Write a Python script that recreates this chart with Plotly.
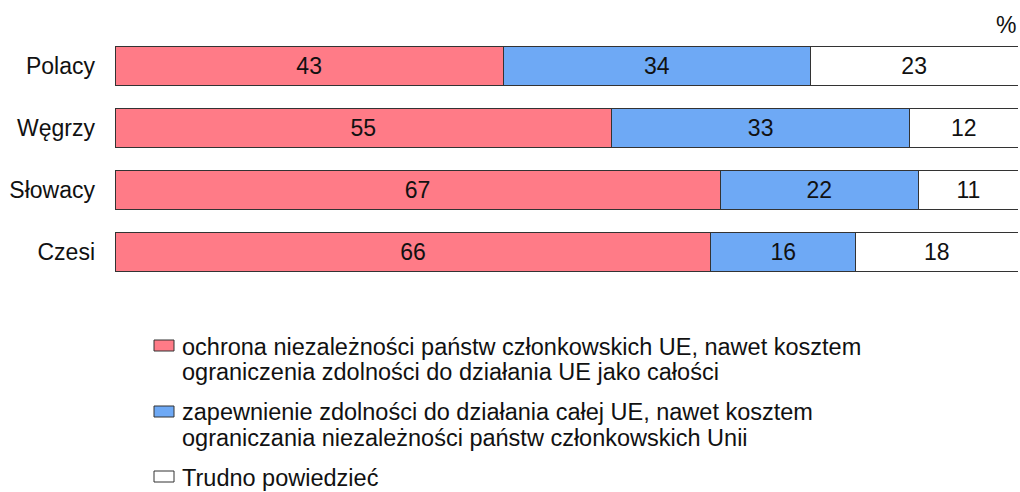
import plotly.graph_objects as go

categories = ["Polacy", "Węgrzy", "Słowacy", "Czesi"]
ochrona = [43, 55, 67, 66]
zapewnienie = [34, 33, 22, 16]
trudno = [23, 12, 11, 18]

series_names = [
    "ochrona niezależności państw członkowskich UE, nawet kosztem<br>ograniczenia zdolności do działania UE jako całości",
    "zapewnienie zdolności do działania całej UE, nawet kosztem<br>ograniczania niezależności państw członkowskich Unii",
    "Trudno powiedzieć",
]
series_values = [ochrona, zapewnienie, trudno]
colors = ["#FF7B87", "#6EA9F5", "#FFFFFF"]

W, H = 1020, 492
ML, MR, MT, MB = 115, 2, 35, 209
PW, PH = W - ML - MR, H - MT - MB

def px_x(px):
    return (px - ML) / PW

def px_y(py):
    return (H - MB - py) / PH

FONT = "Liberation Sans, Arial, sans-serif"
FS = 23
FSL = 23.5

fig = go.Figure()
for name, vals, col in zip(series_names, series_values, colors):
    fig.add_trace(go.Bar(
        y=categories, x=vals, orientation="h", name=name,
        marker=dict(color=col, line=dict(color="#333333", width=1)),
        text=vals, texttemplate="%{text}", textposition="inside",
        insidetextanchor="middle", textangle=0,
        textfont=dict(size=FS, color="#111111", family=FONT),
        showlegend=False, hoverinfo="skip",
    ))

shapes = []
annotations = []
legend_rows = [(340, [347, 372]), (406, [412, 438]), (471, [478])]
for (sym_top, line_ys), name, col in zip(legend_rows, series_names, colors):
    shapes.append(dict(type="rect", xref="paper", yref="paper",
                       x0=px_x(154), x1=px_x(174), y0=px_y(sym_top + 11), y1=px_y(sym_top),
                       fillcolor=col, line=dict(color="#333333", width=1)))
    for txt, ly in zip(name.split("<br>"), line_ys):
        annotations.append(dict(text=txt, xref="paper", yref="paper",
                                x=px_x(180), y=px_y(ly), xanchor="left", yanchor="middle",
                                showarrow=False, font=dict(size=FSL, color="#111111", family=FONT)))

annotations.append(dict(text="%", xref="paper", yref="paper", x=px_x(1018), y=px_y(25),
                        xanchor="right", yanchor="middle", showarrow=False,
                        font=dict(size=FS, color="#111111", family=FONT)))

fig.update_layout(
    width=W, height=H,
    margin=dict(l=ML, r=MR, t=MT, b=MB),
    barmode="stack", bargap=0.37,
    plot_bgcolor="white", paper_bgcolor="white",
    font=dict(family=FONT, size=FS, color="#111111"),
    xaxis=dict(range=[0, 100], visible=False, fixedrange=True),
    yaxis=dict(categoryorder="array", categoryarray=categories, autorange="reversed",
               showgrid=False, zeroline=False, showline=False, ticks="",
               ticklabelstandoff=19, tickfont=dict(size=FS, color="#111111")),
    shapes=shapes, annotations=annotations,
    uniformtext=dict(minsize=10, mode="show"),
)

fig.write_html("out.html", config={"displayModeBar": False},
               post_script="document.body.style.margin='0px';")
